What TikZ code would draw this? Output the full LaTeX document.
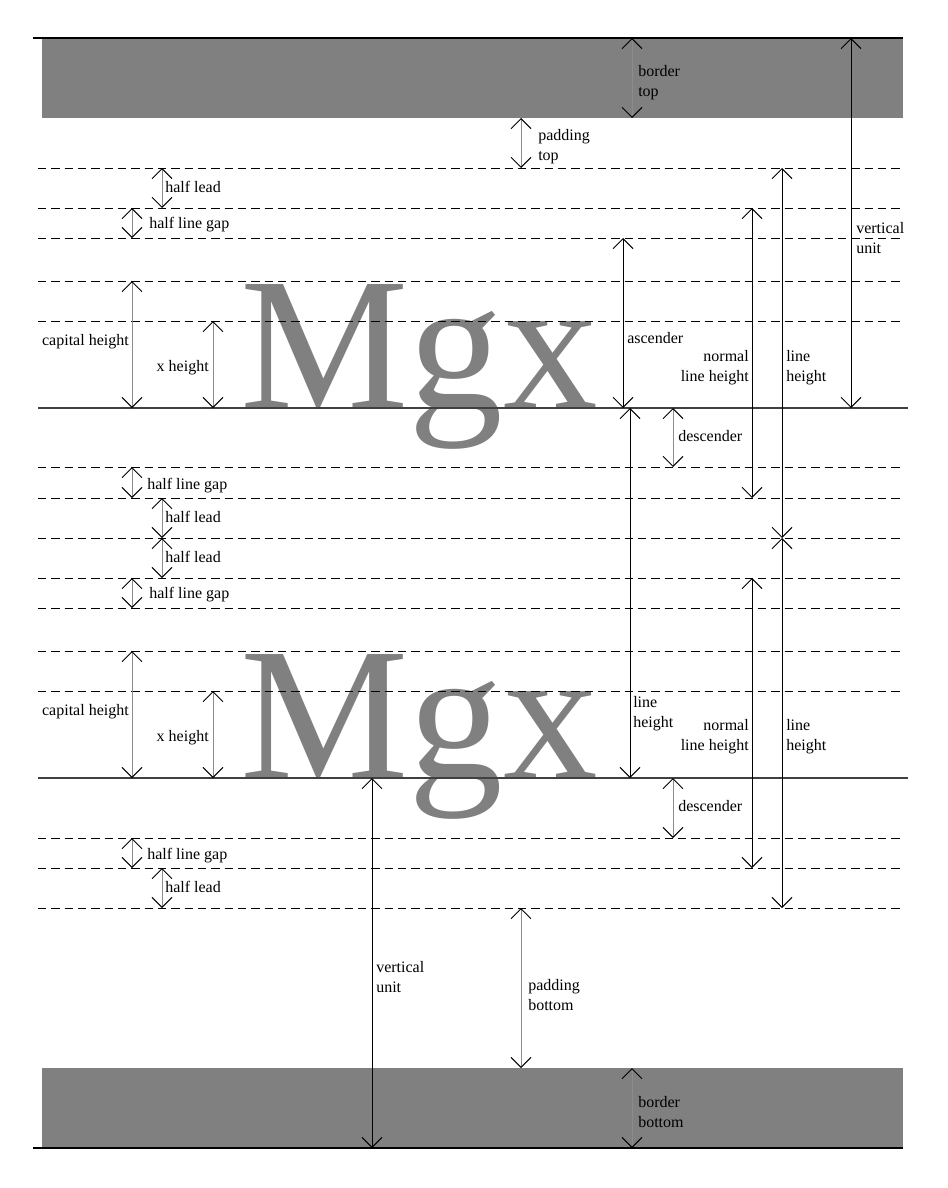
\documentclass[tikz,border=0pt]{standalone}
\usepackage{fontspec}
\setmainfont{Liberation Serif}
\usepackage{tikz}
\usetikzlibrary{arrows.meta}

\begin{document}
\begin{tikzpicture}[x=0.75pt, y=-0.75pt,
	font=\fontsize{12pt}{15pt}\selectfont,
	guide/.style={dash pattern=on 6.25pt off 3.75pt, line width=0.75pt},
	measure/.style={line width=0.75pt,
		{Straight Barb[length=7.5pt, width=15pt, color=black]}-{Straight Barb[length=7.5pt, width=15pt, color=black]}},
	faint/.style={measure, draw=black!45},
	lbl/.style={inner sep=0pt, align=left},
	big/.style={inner sep=0pt, text=black!50, font=\fontsize{142pt}{142pt}\selectfont}]
	\useasboundingbox (0,0) rectangle (948,1188);
	\fill[black!50] (42,38) rectangle (903,118);
	\fill[black!50] (42,1068) rectangle (903,1148);
	\node[big, anchor=base west] (mgx1) at (240,408) {Mgx};
	\node[big, anchor=base west] (mgx2) at (240,778) {Mgx};
	\foreach \y in {168,208,238,281,321,467,498,538,578,608,651,691,838,868,908}
		\draw[guide] (38,\y) -- (903,\y);
	\foreach \y in {408,778}
		\draw[black!75, line width=1.1pt] (38,\y) -- (908,\y);
	\foreach \y in {38,1148}
		\draw[line width=0.9pt] (33,\y) -- (903,\y);
	\foreach \x/\a/\b in {851/38/408, 623/238/408, 630/408/778, 752/208/498,
		782/168/538, 752/578/868, 782/538/908, 372/778/1148}
		\draw[measure] (\x,\a) -- (\x,\b);
	\foreach \x/\a/\b in {632/38/118, 521/118/168, 162/168/208, 132/208/238,
		132/281/408, 213/321/408, 673/408/467, 132/467/498, 162/498/538,
		162/538/578, 132/578/608, 132/651/778, 213/691/778, 673/778/838,
		132/838/868, 162/868/908, 521/908/1068, 632/1068/1148}
		\draw[faint] (\x,\a) -- (\x,\b);
	\node[lbl, anchor=base west] (bordertop) at (638,97) {border\\top};
	\node[lbl, anchor=base west] (paddingtop) at (538,160) {padding\\top};
	\node[lbl, anchor=base west] (vunit1) at (856,253) {vertical\\unit};
	\node[lbl, anchor=base west] (halflead1) at (165,192) {half lead};
	\node[lbl, anchor=base west] (halfgap1) at (149,228) {half line gap};
	\node[lbl, anchor=base east] (cap1) at (129,345) {capital height};
	\node[lbl, anchor=base east] (xh1) at (209,371) {x height};
	\node[lbl, anchor=base west] (asc1) at (627,343) {ascender};
	\node[lbl, anchor=base east, align=right] (normal1) at (749,381) {normal\\line height};
	\node[lbl, anchor=base west] (lh1) at (786,381) {line\\height};
	\node[lbl, anchor=base west] (desc1) at (678,441) {descender};
	\node[lbl, anchor=base west] (halfgap2) at (147,489) {half line gap};
	\node[lbl, anchor=base west] (halflead2) at (165,522) {half lead};
	\node[lbl, anchor=base west] (halflead3) at (165,562) {half lead};
	\node[lbl, anchor=base west] (halfgap3) at (149,598) {half line gap};
	\node[lbl, anchor=base east] (cap2) at (129,715) {capital height};
	\node[lbl, anchor=base east] (xh2) at (209,741) {x height};
	\node[lbl, anchor=base west] (lhmid) at (633,727) {line\\height};
	\node[lbl, anchor=base east, align=right] (normal2) at (749,750) {normal\\line height};
	\node[lbl, anchor=base west] (lh2) at (786,750) {line\\height};
	\node[lbl, anchor=base west] (desc2) at (678,811) {descender};
	\node[lbl, anchor=base west] (halfgap4) at (147,859) {half line gap};
	\node[lbl, anchor=base west] (halflead4) at (165,892) {half lead};
	\node[lbl, anchor=base west] (vunit2) at (376,992) {vertical\\unit};
	\node[lbl, anchor=base west] (paddingbot) at (528,1010) {padding\\bottom};
	\node[lbl, anchor=base west] (borderbot) at (638,1127) {border\\bottom};
\end{tikzpicture}
\end{document}
